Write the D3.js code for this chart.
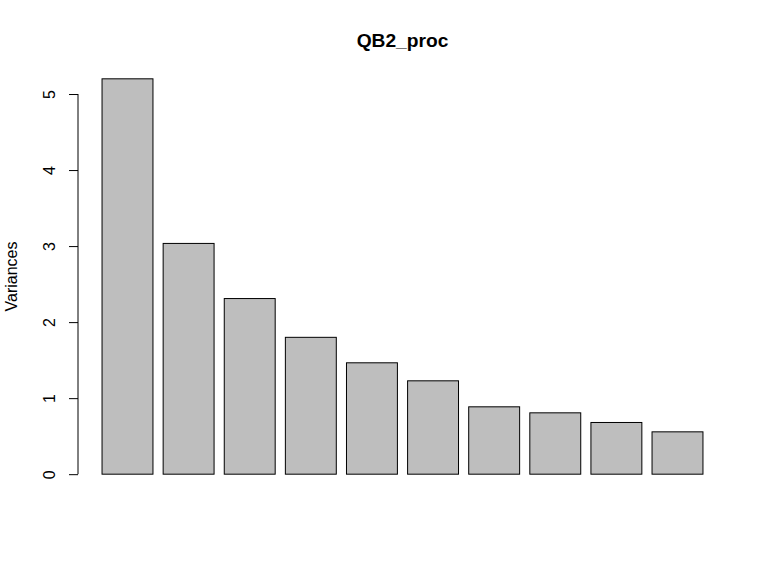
<!DOCTYPE html>
<html>
<head>
<meta charset="utf-8">
<script src="https://cdn.jsdelivr.net/npm/d3@7"></script>
<style>
  body { margin: 0; background: #fff; }
  svg { display: block; font-family: "Liberation Sans", Arial, sans-serif; }
</style>
</head>
<body>
<div id="chart"></div>
<script>
// screeplot values
const components = ["Comp.1", "Comp.2", "Comp.3", "Comp.4", "Comp.5",
                    "Comp.6", "Comp.7", "Comp.8", "Comp.9", "Comp.10"]
const variances = [5.20, 3.035, 2.31, 1.80, 1.465, 1.228, 0.886, 0.807, 0.680, 0.557]
const yTicks = [0, 1, 2, 3, 4, 5]

const width = 768, height = 576
// plot region (like R's default margins)
const plot = { left: 78, right: 727, top: 63, bottom: 490 }

const svg = d3.select("#chart")
  .append("svg")
    .attr("width", width)
    .attr("height", height)

// R barplot: bar width 1, space 0.2
const barW = 1, space = 0.2
const lefts = components.map((c, i) => space + i * (barW + space))
const xMin = lefts[0], xMax = lefts[lefts.length - 1] + barW
const xPad = (xMax - xMin) * 0.04

const xScale = d3.scaleLinear()
  .domain([xMin - xPad, xMax + xPad])
  .range([plot.left, plot.right])

const yMax = d3.max(variances)
const yScale = d3.scaleLinear()
  .domain([-yMax * 0.04, yMax * 1.04])
  .range([plot.bottom, plot.top])

svg.selectAll("rect.bar")
  .data(variances)
  .join("rect")
    .attr("class", "bar")
    .attr("x", (d, i) => xScale(lefts[i]))
    .attr("y", d => yScale(d))
    .attr("width", (d, i) => xScale(lefts[i] + barW) - xScale(lefts[i]))
    .attr("height", d => yScale(0) - yScale(d))
    .attr("fill", "#bebebe")
    .attr("stroke", "#000")
    .attr("stroke-width", 1)

// y axis, R style
const yAxis = d3.axisLeft(yScale)
  .tickValues(yTicks)
  .tickSize(9)
  .tickPadding(0)
  .tickFormat(d3.format("d"))

const gy = svg.append("g")
  .attr("transform", `translate(${plot.left},0)`)
  .call(yAxis)

gy.select(".domain")
  .attr("d", `M0,${yScale(0)}V${yScale(5)}`)
  .attr("stroke", "#000")
gy.selectAll(".tick line").attr("stroke", "#000")
gy.selectAll(".tick text")
  .attr("x", 0)
  .attr("dy", 0)
  .attr("text-anchor", "middle")
  .attr("transform", "translate(-23,0) rotate(-90)")
  .style("font-size", "16px")
  .style("fill", "#000")

svg.append("text")
  .text("Variances")
  .attr("transform", `translate(17,${(plot.top + plot.bottom) / 2}) rotate(-90)`)
  .attr("text-anchor", "middle")
  .style("font-size", "16px")

svg.append("text")
  .text("QB2_proc")
  .attr("x", (plot.left + plot.right) / 2)
  .attr("y", 47)
  .attr("text-anchor", "middle")
  .style("font-size", "19.2px")
  .style("font-weight", "bold")
</script>
</body>
</html>
